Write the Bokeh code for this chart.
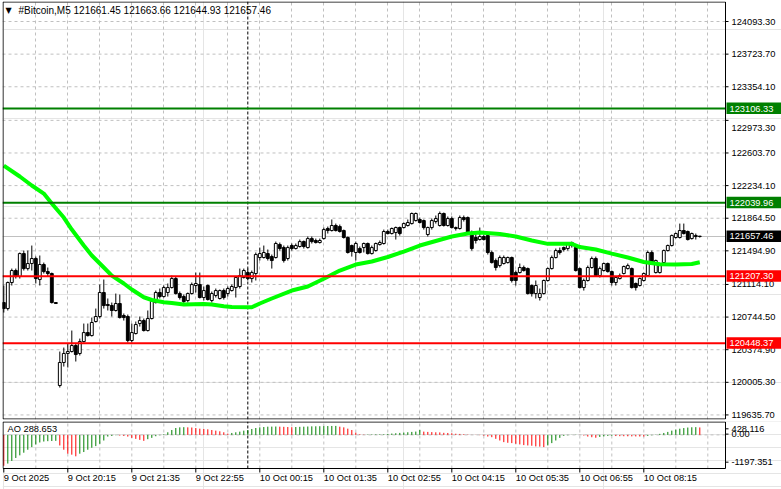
from bokeh.plotting import figure
from bokeh.layouts import column
from bokeh.models import Range1d, FixedTicker, Span, ColumnDataSource, Grid
from bokeh.core.properties import value
from bokeh.embed import file_html
from bokeh.resources import INLINE

# ---------------- data ----------------
symbol_title = "#Bitcoin,M5  121661.45 121663.66 121644.93 121657.46"

opens = [
    120909, 120841, 121136, 121272, 121204, 121464, 121294, 121351, 121408, 121170,
    121340, 121260, 121238, 120909, 119969, 120230, 120332, 120354, 120422, 120332,
    120467, 120569, 120535, 120694, 120751, 121023, 120887, 120875, 120819, 120898,
    120762, 120751, 120479, 120558, 120671, 120705, 120592, 120728, 120909, 121023,
    120977, 121023, 121079, 121181, 121011, 120977, 120932, 121011, 121102, 121113,
    120966, 121102, 120932, 120989, 120955, 121045, 121011, 121045, 121079, 121091,
    121193, 121249, 121181, 121238, 121419, 121419, 121464, 121430, 121419, 121566,
    121532, 121408, 121555, 121521, 121544, 121600, 121532, 121634, 121612, 121589,
    121634, 121748, 121725, 121782, 121770, 121725, 121646, 121555, 121476, 121521,
    121532, 121578, 121464, 121498, 121566, 121578, 121714, 121691, 121702, 121759,
    121759, 121782, 121804, 121838, 121850, 121838, 121680, 121759, 121827, 121782,
    121918, 121782, 121861, 121748, 121748, 121872, 121872, 121702, 121646, 121623,
    121657, 121668, 121476, 121385, 121328, 121351, 121362, 121419, 121249, 121249,
    121306, 121294, 121102, 121011, 120966, 121011, 121159, 121294, 121419, 121498,
    121532, 121521, 121555, 121532, 121294, 121079, 121159, 121306, 121408, 121215,
    121272, 121351, 121260, 121136, 121181, 121238, 121294, 121294, 121125, 121102,
    121159, 121215, 121476, 121249, 121249, 121362, 121498, 121555, 121646, 121646,
    121725, 121714, 121634, 121668, 121661.45,
]
highs = [
    121102, 121147, 121294, 121294, 121476, 121498, 121498, 121555, 121430, 121442,
    121362, 121306, 121249, 120909, 120354, 120399, 120445, 120592, 120445, 120501,
    120671, 120671, 120739, 120841, 121113, 121170, 120955, 120909, 121011, 121000,
    120785, 120773, 120671, 120694, 120751, 120728, 120819, 120955, 121045, 121068,
    121102, 121125, 121215, 121204, 121034, 121000, 121023, 121136, 121249, 121249,
    121091, 121113, 121034, 121068, 121057, 121068, 121091, 121113, 121204, 121294,
    121294, 121294, 121272, 121476, 121532, 121555, 121510, 121453, 121600, 121589,
    121555, 121555, 121578, 121578, 121623, 121612, 121657, 121657, 121634, 121634,
    121759, 121770, 121850, 121804, 121793, 121736, 121657, 121566, 121600, 121544,
    121589, 121589, 121555, 121589, 121612, 121736, 121736, 121759, 121770, 121770,
    121816, 121850, 121929, 121929, 121872, 121850, 121770, 121861, 121895, 121940,
    121929, 121884, 121884, 121770, 121895, 121895, 121884, 121725, 121691, 121759,
    121680, 121691, 121498, 121408, 121442, 121442, 121430, 121430, 121272, 121351,
    121328, 121306, 121113, 121159, 121068, 121170, 121306, 121442, 121521, 121532,
    121544, 121589, 121600, 121555, 121306, 121181, 121328, 121430, 121430, 121317,
    121362, 121362, 121272, 121204, 121238, 121328, 121351, 121306, 121136, 121193,
    121249, 121498, 121498, 121396, 121340, 121510, 121566, 121680, 121702, 121804,
    121804, 121725, 121702, 121691, 121663.66,
]
lows = [
    120796, 120819, 121102, 121181, 121181, 121272, 121272, 121272, 121125, 121102,
    121238, 121204, 120898, 120898, 119946, 120184, 120173, 120343, 120241, 120309,
    120456, 120524, 120524, 120683, 120728, 120841, 120819, 120751, 120807, 120728,
    120705, 120456, 120456, 120547, 120637, 120581, 120581, 120717, 120898, 120955,
    120966, 120977, 121068, 121000, 120943, 120898, 120909, 121000, 121023, 120955,
    120932, 120932, 120909, 120966, 120943, 120943, 120977, 121034, 120966, 121068,
    121181, 121159, 121136, 121159, 121385, 121408, 121385, 121294, 121408, 121498,
    121362, 121385, 121498, 121510, 121532, 121521, 121521, 121578, 121578, 121578,
    121623, 121691, 121714, 121714, 121702, 121634, 121464, 121430, 121385, 121464,
    121476, 121453, 121453, 121487, 121555, 121566, 121680, 121680, 121623, 121668,
    121748, 121770, 121793, 121827, 121804, 121736, 121657, 121736, 121804, 121770,
    121770, 121770, 121748, 121725, 121736, 121827, 121680, 121498, 121578, 121612,
    121612, 121453, 121351, 121272, 121306, 121340, 121351, 121136, 121102, 121238,
    121260, 121000, 120977, 120955, 120932, 121000, 121147, 121283, 121408, 121453,
    121487, 121498, 121532, 121260, 121068, 121045, 121147, 121294, 121204, 121193,
    121260, 121249, 121102, 121102, 121170, 121227, 121283, 121068, 121045, 121091,
    121147, 121204, 121351, 121238, 121238, 121351, 121487, 121544, 121634, 121634,
    121680, 121612, 121623, 121623, 121644.93,
]
closes = [
    120841, 121136, 121272, 121204, 121464, 121294, 121351, 121408, 121181, 121340,
    121260, 121238, 120909, 120898, 120230, 120332, 120354, 120422, 120320, 120467,
    120569, 120535, 120683, 120751, 121023, 120875, 120875, 120819, 120898, 120739,
    120739, 120479, 120569, 120660, 120705, 120592, 120728, 120921, 121023, 120977,
    121079, 121079, 121181, 121011, 120966, 120921, 121011, 121113, 121125, 120966,
    121045, 120943, 121011, 121045, 121045, 120966, 121068, 121091, 121193, 121215,
    121272, 121181, 121249, 121453, 121464, 121476, 121408, 121385, 121578, 121521,
    121385, 121532, 121521, 121555, 121600, 121544, 121634, 121600, 121589, 121612,
    121736, 121725, 121782, 121725, 121714, 121646, 121476, 121487, 121578, 121476,
    121578, 121464, 121532, 121578, 121589, 121714, 121691, 121748, 121759, 121691,
    121804, 121816, 121918, 121918, 121816, 121759, 121759, 121838, 121861, 121918,
    121782, 121861, 121759, 121759, 121872, 121850, 121691, 121521, 121612, 121657,
    121623, 121476, 121362, 121306, 121419, 121419, 121419, 121159, 121159, 121306,
    121272, 121011, 121011, 121102, 121011, 121159, 121294, 121419, 121498, 121476,
    121510, 121578, 121589, 121272, 121079, 121159, 121306, 121408, 121215, 121294,
    121351, 121260, 121136, 121193, 121215, 121317, 121328, 121079, 121079, 121181,
    121238, 121476, 121362, 121385, 121328, 121498, 121555, 121668, 121691, 121725,
    121691, 121623, 121691, 121657, 121657.46,
]

# moving average, read at selected bars
ma_bars = [0, 4, 7, 10, 12, 15, 17, 20, 22, 25, 27, 30, 32, 35, 37, 40, 42, 45, 50, 52,
           55, 57, 62, 64, 67, 72, 76, 80, 84, 88, 92, 96, 100, 104, 108, 112, 116, 119,
           124, 128, 132, 136, 142, 144, 148, 152, 156, 160, 164, 168, 172, 174]
ma_values = [122461, 122337, 122235, 122144, 122031, 121872, 121736, 121555, 121442, 121306,
             121215, 121125, 121057, 120969, 120938, 120913, 120904, 120887, 120892, 120887,
             120867, 120858, 120856, 120898, 120955, 121045, 121091, 121178, 121272, 121340,
             121374, 121425, 121487, 121555, 121606, 121657, 121691, 121702, 121685, 121657,
             121612, 121574, 121574, 121538, 121510, 121464, 121419, 121368, 121343, 121340,
             121346, 121366]

# Awesome Oscillator
ao_values = [
    -1197, -1112, -1010, -895, -793, -691, -576, -474, -372, -295,
    -257, -244, -238, -231, -410, -576, -729, -767, -831, -729,
    -665, -576, -499, -435, -346, -218, -65, -40, -14, -27,
    -40, -65, -116, -155, -193, -231, -167, -116, -52, -14,
    24, 101, 190, 267, 292, 299, 292, 286, 267, 241,
    229, 216, 190, 165, 139, 101, 50, 75, 101, 126,
    165, 190, 229, 267, 292, 305, 318, 320, 324, 318,
    312, 305, 299, 305, 312, 318, 324, 331, 333, 336,
    340, 343, 346, 348, 318, 292, 241, 190, 88, 24,
    12, 15, 18, 20, 22, 25, 38, 51, 64, 77,
    89, 102, 115, 128, 192, 126, 115, 108, 101, 95,
    80, 75, 64, 45, 38, 26, 13, 3, -5, -10,
    -30, -64, -89, -153, -217, -281, -306, -319, -345, -370,
    -396, -409, -421, -447, -455, -472, -409, -319, -217, -115,
    -40, -15, 5, 8, 3, -25, -65, -90, -110, -80,
    -60, -40, -35, -45, -50, -52, -55, -58, -60, -62,
    -63, -40, -15, 10, 40, 75, 115, 165, 205, 240,
    265, 285, 295, 300, 288.653,
]

price_ticks = [124093.30, 123723.70, 123354.10, 122973.30, 122603.70, 122234.10, 121864.50,
               121494.90, 121114.10, 120744.50, 120374.90, 120005.30, 119635.70]
resistance_levels = [123106.33, 122039.96]
support_levels = [121207.30, 120448.37]
last_price = 121657.46

time_tick_bars = [0, 16, 32, 48, 64, 80, 96, 112, 128, 144, 160]
time_tick_labels = ["9 Oct 2025", "9 Oct 20:15", "9 Oct 21:35", "9 Oct 22:55", "10 Oct 00:15",
                    "10 Oct 01:35", "10 Oct 02:55", "10 Oct 04:15", "10 Oct 05:35",
                    "10 Oct 06:55", "10 Oct 08:15"]
ao_scale_labels = ["428.116", "0.00", "-1197.351"]
day_separator_bar = 61

# ---------------- geometry / styling ----------------
FONT = value("Liberation Sans")
FS = value("9.3px")
GRID = "#c0c0c0"
GREEN = "#008000"
RED = "#ff0000"

CHART_W = 723            # pixel width of the price area
FULL_W = 779             # frame width incl. price-scale strip
X0 = -0.325
XPP = 0.25               # bars per pixel
X1 = X0 + CHART_W * XPP
X_END = X0 + FULL_W * XPP

Y_BOT, Y_TOP = 119584, 124320
H1 = 418
YPP1 = (Y_TOP - Y_BOT) / H1

AO_TOP, AO_BOT = 519, -1303
AO_H = 47
YPP2 = (AO_TOP - AO_BOT) / AO_H
H2 = 68
AO_FRAME_BOT = AO_BOT - (H2 - AO_H) * YPP2

n = len(closes)
bars = list(range(n))
grid_bars = list(range(8, 184, 8))


def hseg(fig, ys, color, width=1, dash="solid"):
    k = len(ys)
    fig.segment(x0=[X0] * k, x1=[X1] * k, y0=ys, y1=ys, line_color=color, line_width=width,
                line_dash=dash)


# ================= main price panel =================
p = figure(frame_width=FULL_W, frame_height=H1, min_border_left=2, min_border_right=0,
           min_border_top=1, min_border_bottom=2, x_axis_location=None, y_axis_location=None,
           x_range=Range1d(X0, X_END), y_range=Range1d(Y_BOT, Y_TOP),
           output_backend="svg", toolbar_location=None,
           background_fill_color="white", border_fill_color="white")
p.outline_line_color = None

# grid
p.add_layout(Grid(dimension=0, ticker=FixedTicker(ticks=grid_bars), grid_line_color=GRID,
                  grid_line_dash="3 3"))
hseg(p, price_ticks, GRID, 1, "3 3")
hseg(p, [last_price], GRID, 1)
p.add_layout(Span(location=day_separator_bar, dimension="height", line_color="black",
                  line_dash="3 2", line_width=1, level="underlay"))

# candles
src = ColumnDataSource(dict(
    x=bars, high=highs, low=lows,
    top=[max(o, c) for o, c in zip(opens, closes)],
    bottom=[min(o, c) for o, c in zip(opens, closes)],
    fill=["white" if c >= o else "black" for o, c in zip(opens, closes)],
))
p.segment(x0="x", y0="high", x1="x", y1="low", source=src, line_color="black", line_width=1)
p.vbar(x="x", width=0.72, top="top", bottom="bottom", fill_color="fill", line_color="black",
       line_width=1, source=src)

# moving average
p.line(ma_bars, ma_values, line_color="#00ff00", line_width=4)

# level lines
for lv in resistance_levels:
    hseg(p, [lv], GREEN, 2)
for lv in support_levels:
    hseg(p, [lv], RED, 2)

# frame border (chart part only)
p.quad(left=[X0 + 0.5 * XPP], right=[X1], top=[Y_TOP - 0.5 * YPP1], bottom=[Y_BOT + 0.5 * YPP1],
       fill_color=None, line_color="black", line_width=1)

# price scale: ticks and labels (one label nudged down as in the terminal)
axis_pos = list(price_ticks)
axis_pos[3] = price_ticks[3] - 8 * YPP1
k = len(price_ticks)
p.segment(x0=[X1] * k, x1=[X1 + 3 * XPP] * k, y0=price_ticks, y1=price_ticks,
          line_color="black", line_width=1)
p.text(x=[X1] * k, y=axis_pos, text=[f"{v:.2f}" for v in price_ticks], x_offset=6,
       text_align="left", text_baseline="middle", text_font=FONT, text_font_size=FS,
       text_color="black")

# price tags
tag_vals = resistance_levels + support_levels + [last_price]
tag_cols = [GREEN] * len(resistance_levels) + [RED] * len(support_levels) + ["black"]
p.quad(left=[X1 + 1 * XPP] * len(tag_vals), right=[X_END] * len(tag_vals),
       top=[v + 6 * YPP1 for v in tag_vals], bottom=[v - 5.5 * YPP1 for v in tag_vals],
       fill_color=tag_cols, line_color=None)
p.text(x=[X1] * len(tag_vals), y=tag_vals, text=[f"{v:.2f}" for v in tag_vals], x_offset=4,
       text_align="left", text_baseline="middle", text_font=FONT, text_font_size=FS,
       text_color="white")

# title
p.text(x=[X0], y=[Y_TOP], text=["\u25bc"], x_offset=3, y_offset=4, text_align="left",
       text_baseline="top", text_font=value("DejaVu Sans"), text_font_size=value("8px"),
       text_color="black")
p.text(x=[X0], y=[Y_TOP], text=[symbol_title], x_offset=16, y_offset=3, text_align="left",
       text_baseline="top", text_font=FONT, text_font_size=value("10px"), text_color="black")

# ================= AO panel =================
p2 = figure(frame_width=FULL_W, frame_height=H2, min_border_left=2, min_border_right=0,
            min_border_top=0, min_border_bottom=0, x_axis_location=None, y_axis_location=None,
            x_range=p.x_range, y_range=Range1d(AO_FRAME_BOT, AO_TOP),
            output_backend="svg", toolbar_location=None,
            background_fill_color="white", border_fill_color="white")
p2.outline_line_color = None

kg = len(grid_bars)
p2.segment(x0=grid_bars, x1=grid_bars, y0=[AO_BOT] * kg, y1=[AO_TOP] * kg, line_color=GRID,
           line_dash="3 3", line_width=1)
hseg(p2, [0], GRID, 1, "3 3")
p2.segment(x0=[day_separator_bar], x1=[day_separator_bar], y0=[AO_BOT], y1=[AO_TOP],
           line_color="black", line_dash="3 2", line_width=1)

ao_colors = [RED] + [GREEN if ao_values[i] > ao_values[i - 1] else RED for i in range(1, n)]
p2.segment(x0=bars, y0=[0] * n, x1=bars, y1=ao_values, line_color=ao_colors, line_width=1)

p2.quad(left=[X0 + 0.5 * XPP], right=[X1], top=[AO_TOP - 0.5 * YPP2], bottom=[AO_BOT],
        fill_color=None, line_color="black", line_width=1)

ao_label_pos = [236, 30, -1058]
p2.segment(x0=[X1] * 3, x1=[X1 + 3 * XPP] * 3, y0=ao_label_pos, y1=ao_label_pos,
           line_color="black", line_width=1)
p2.text(x=[X1] * 3, y=ao_label_pos, text=ao_scale_labels, x_offset=6, text_align="left",
        text_baseline="middle", text_font=FONT, text_font_size=FS, text_color="black")

p2.text(x=[X0], y=[AO_TOP], text=[f"AO {ao_values[-1]:.3f}"], x_offset=5, y_offset=2,
        text_align="left", text_baseline="top", text_font=FONT, text_font_size=FS,
        text_color="black")

# time scale
kt = len(time_tick_bars)
p2.segment(x0=time_tick_bars, x1=time_tick_bars, y0=[AO_BOT] * kt,
           y1=[AO_BOT - 4 * YPP2] * kt, line_color="black", line_width=1)
p2.text(x=time_tick_bars, y=[AO_BOT] * kt, text=time_tick_labels, x_offset=0, y_offset=4,
        text_align="left", text_baseline="top", text_font=FONT, text_font_size=FS,
        text_color="black")

layout = column(p, p2, spacing=0)
open("out.html", "w").write(file_html(layout, INLINE))
